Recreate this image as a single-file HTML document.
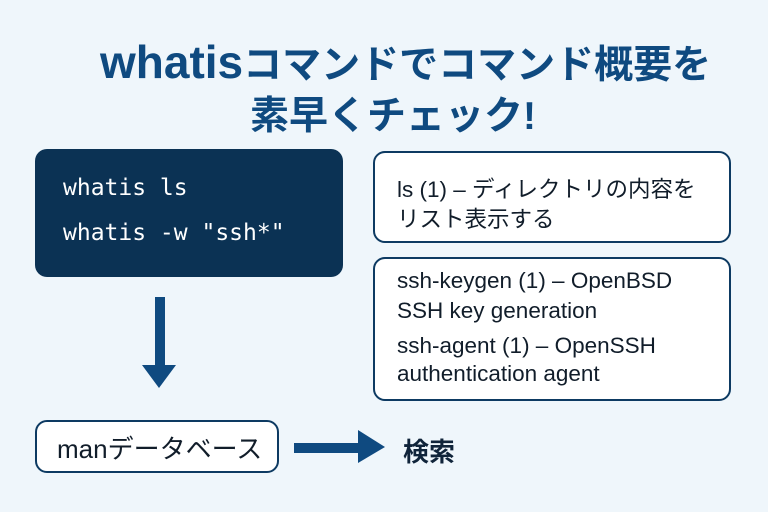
<!DOCTYPE html>
<html><head><meta charset="utf-8"><style>
body{margin:0;width:768px;height:512px;background:#eff6fb;position:relative;overflow:hidden;font-family:"Liberation Sans","Noto Sans CJK JP",sans-serif;color:#10243a}
.a{position:absolute;white-space:nowrap}
.t{color:#0f4a80;font-weight:bold;font-size:39px;letter-spacing:0px}
.dark{position:absolute;left:35px;top:149px;width:308px;height:128px;background:#0b3254;border-radius:12px}
.mono{font-family:"DejaVu Sans Mono","Liberation Mono",monospace;color:#fff;font-size:23px}
.box{position:absolute;border:2.5px solid #0d3a62;border-radius:12px;background:#fff;box-sizing:border-box}
.r{font-size:22.5px;color:#111d2a}
</style></head><body>
<div class="a t" style="left:100px;top:34px"><span style="font-size:46px">whatis</span>コマンドでコマンド概要を</div>
<div class="a t" style="left:250px;top:85px">素早くチェック!</div>
<div class="dark"></div>
<div class="a mono" style="left:63px;top:175px">whatis ls</div>
<div class="a mono" style="left:63px;top:220px">whatis -w "ssh*"</div>
<div class="box" style="left:373px;top:151px;width:358px;height:92px"></div>
<div class="a r" style="left:397px;top:172px">ls (1) – ディレクトリの内容を</div>
<div class="a r" style="left:397px;top:202px">リスト表示する</div>
<div class="box" style="left:373px;top:257px;width:358px;height:144px"></div>
<div class="a r" style="left:397px;top:268px">ssh-keygen (1) – OpenBSD</div>
<div class="a r" style="left:397px;top:298px">SSH key generation</div>
<div class="a r" style="left:397px;top:333px">ssh-agent (1) – OpenSSH</div>
<div class="a r" style="left:397px;top:361px">authentication agent</div>
<div class="box" style="left:35px;top:420px;width:244px;height:53px"></div>
<div class="a" style="left:57px;top:429px;font-size:26px;color:#111d2a">manデータベース</div>
<svg class="a" style="left:0;top:0" width="768" height="512">
<rect x="155" y="297" width="10" height="70" fill="#0f4a80"/>
<polygon points="142,365 176,365 159,388" fill="#0f4a80"/>
<rect x="294" y="443" width="66" height="10" fill="#0f4a80"/>
<polygon points="358,430 358,463 385,447" fill="#0f4a80"/>
</svg>
<div class="a" style="left:403px;top:432px;font-size:26px;font-weight:bold;color:#10243a">検索</div>
</body></html>
